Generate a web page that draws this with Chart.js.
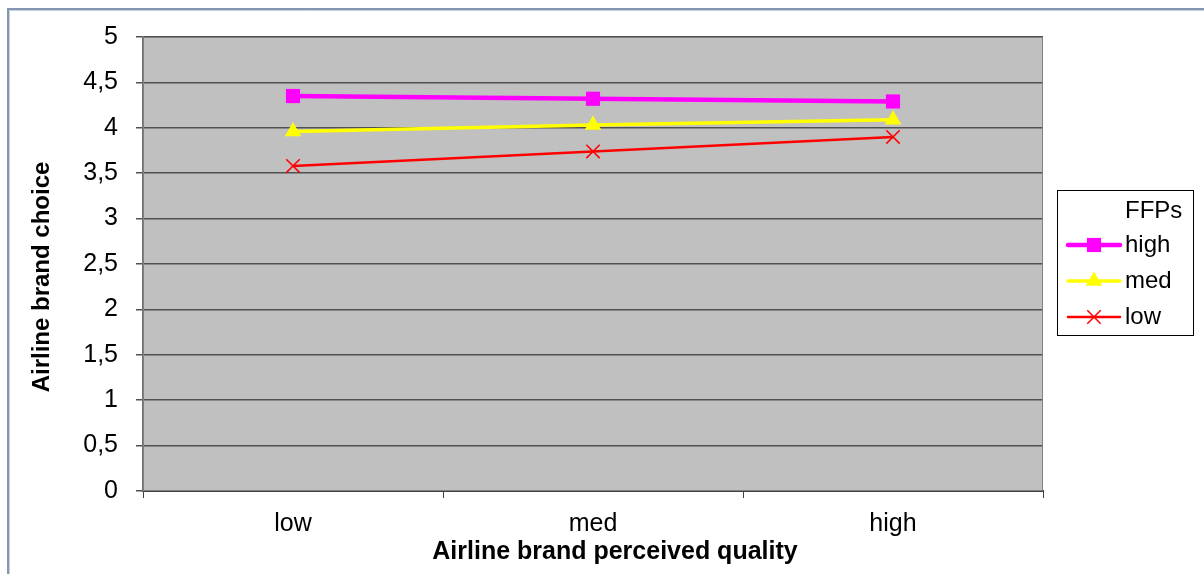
<!DOCTYPE html>
<html>
<head>
<meta charset="utf-8">
<script src="https://cdn.jsdelivr.net/npm/chart.js@4/dist/chart.umd.min.js"></script>
<style>
  html, body { margin: 0; padding: 0; background: #ffffff; }
  #wrap { position: relative; width: 1204px; height: 574px; }
</style>
</head>
<body>
<div id="wrap"><canvas id="chart" width="1204" height="574"></canvas></div>
<script>
// Perceived quality categories on the x axis
const categories = ['low', 'med', 'high'];

// Airline brand choice by FFPs level
const ffpHigh = [4.35, 4.32, 4.29];
const ffpMed = [3.96, 4.03, 4.09];
const ffpLow = [3.58, 3.74, 3.90];

// Series names and y tick labels (comma decimals)
const seriesNames = ['high', 'med', 'low'];
const yTickLabels = ['0', '0,5', '1', '1,5', '2', '2,5', '3', '3,5', '4', '4,5', '5'];

const legendTitle = 'FFPs';
const xTitle = 'Airline brand perceived quality';
const yTitle = 'Airline brand choice';

const FONT = '"Liberation Sans", Arial, sans-serif';

// Grey plot background, outer frame, axis titles and the legend box
const decorations = {
  id: 'decorations',
  beforeDraw(chart) {
    const { ctx, chartArea: a } = chart;
    ctx.save();
    ctx.fillStyle = '#c0c0c0';
    ctx.fillRect(a.left, a.top, a.right - a.left, a.bottom - a.top);
    ctx.restore();
  },
  afterDraw(chart) {
    const { ctx, chartArea: a } = chart;
    ctx.save();

    // outer frame
    ctx.strokeStyle = '#8497b0';
    ctx.lineWidth = 2;
    ctx.beginPath();
    ctx.moveTo(8, 600);
    ctx.lineTo(8, 9);
    ctx.lineTo(1210, 9);
    ctx.stroke();
    ctx.strokeStyle = '#c5d0de';
    ctx.lineWidth = 1;
    ctx.beginPath();
    ctx.moveTo(9.5, 600);
    ctx.lineTo(9.5, 10.5);
    ctx.lineTo(1210, 10.5);
    ctx.stroke();

    // plot area edge
    ctx.strokeStyle = '#808080';
    ctx.lineWidth = 1;
    ctx.strokeRect(a.left + 0.5, a.top + 0.5, a.right - a.left - 1, a.bottom - a.top - 1);

    // axis titles
    ctx.fillStyle = '#000000';
    ctx.textAlign = 'center';
    ctx.textBaseline = 'middle';
    ctx.font = 'bold 25px ' + FONT;
    ctx.fillText(xTitle, 615, 552);
    ctx.save();
    ctx.font = 'bold 24px ' + FONT;
    ctx.translate(42, 277);
    ctx.rotate(-Math.PI / 2);
    ctx.fillText(yTitle, 0, 0);
    ctx.restore();

    // legend
    const lx = 1057, ly = 190, lw = 137, lh = 146;
    ctx.fillStyle = '#ffffff';
    ctx.fillRect(lx, ly, lw, lh);
    ctx.strokeStyle = '#000000';
    ctx.lineWidth = 1;
    ctx.strokeRect(lx + 0.5, ly + 0.5, lw - 1, lh - 1);

    ctx.fillStyle = '#000000';
    ctx.font = '24px ' + FONT;
    ctx.textAlign = 'left';
    ctx.textBaseline = 'middle';
    ctx.fillText(legendTitle, 1125, 211);

    const rowY = [245, 281, 317];
    chart.data.datasets.forEach((ds, i) => {
      const y = rowY[i];
      ctx.strokeStyle = ds.borderColor;
      ctx.lineWidth = ds.borderWidth;
      ctx.lineCap = 'round';
      ctx.beginPath();
      ctx.moveTo(1068, y);
      ctx.lineTo(1120, y);
      ctx.stroke();

      ctx.save();
      ctx.fillStyle = ds.pointBackgroundColor;
      ctx.strokeStyle = ds.pointBorderColor;
      ctx.lineWidth = ds.pointBorderWidth;
      ctx.lineCap = 'butt';
      Chart.helpers.drawPoint(ctx, {
        pointStyle: ds.pointStyle,
        radius: ds.pointRadius,
        borderWidth: ds.pointBorderWidth,
        rotation: 0
      }, 1094, y);
      ctx.restore();

      ctx.fillStyle = '#000000';
      ctx.fillText(ds.label, 1125, y);
    });
    ctx.restore();
  }
};

const datasets = [
  {
    label: seriesNames[0],
    data: ffpHigh,
    borderColor: '#ff00ff',
    backgroundColor: '#ff00ff',
    borderWidth: 4.5,
    pointStyle: 'rect',
    pointRadius: 10,
    pointBackgroundColor: '#ff00ff',
    pointBorderColor: '#ff00ff',
    pointBorderWidth: 0
  },
  {
    label: seriesNames[1],
    data: ffpMed,
    borderColor: '#ffff00',
    backgroundColor: '#ffff00',
    borderWidth: 3.5,
    pointStyle: 'triangle',
    pointRadius: 9.5,
    pointBackgroundColor: '#ffff00',
    pointBorderColor: '#ffff00',
    pointBorderWidth: 0
  },
  {
    label: seriesNames[2],
    data: ffpLow,
    borderColor: '#ff0000',
    backgroundColor: '#ff0000',
    borderWidth: 2.5,
    pointStyle: 'crossRot',
    pointRadius: 9.5,
    pointBackgroundColor: '#ff0000',
    pointBorderColor: '#ff0000',
    pointBorderWidth: 1.5
  }
];

new Chart(document.getElementById('chart'), {
  type: 'line',
  data: { labels: categories, datasets: datasets },
  options: {
    responsive: false,
    animation: false,
    devicePixelRatio: 1,
    layout: { padding: { top: 37, right: 161, bottom: 0, left: 0 } },
    elements: { line: { tension: 0 } },
    plugins: {
      legend: { display: false },
      tooltip: { enabled: false },
      title: { display: false }
    },
    scales: {
      x: {
        offset: true,
        grid: {
          offset: true,
          drawOnChartArea: false,
          drawTicks: true,
          tickLength: 7,
          color: '#404040',
          lineWidth: 1
        },
        border: { display: true, color: '#404040', width: 2 },
        ticks: {
          color: '#000000',
          font: { family: FONT, size: 25 },
          padding: 11,
          maxRotation: 0
        },
        afterFit(scale) { scale.height = 83; }
      },
      y: {
        min: 0,
        max: 5,
        ticks: {
          stepSize: 0.5,
          color: '#000000',
          font: { family: FONT, size: 25 },
          padding: 18,
          callback: (v, i) => yTickLabels[i]
        },
        grid: {
          color: '#505050',
          lineWidth: 1.5,
          tickLength: 7,
          drawTicks: true
        },
        border: { display: true, color: '#707070', width: 2 },
        afterFit(scale) { scale.width = 143; }
      }
    }
  },
  plugins: [decorations]
});
</script>
</body>
</html>
